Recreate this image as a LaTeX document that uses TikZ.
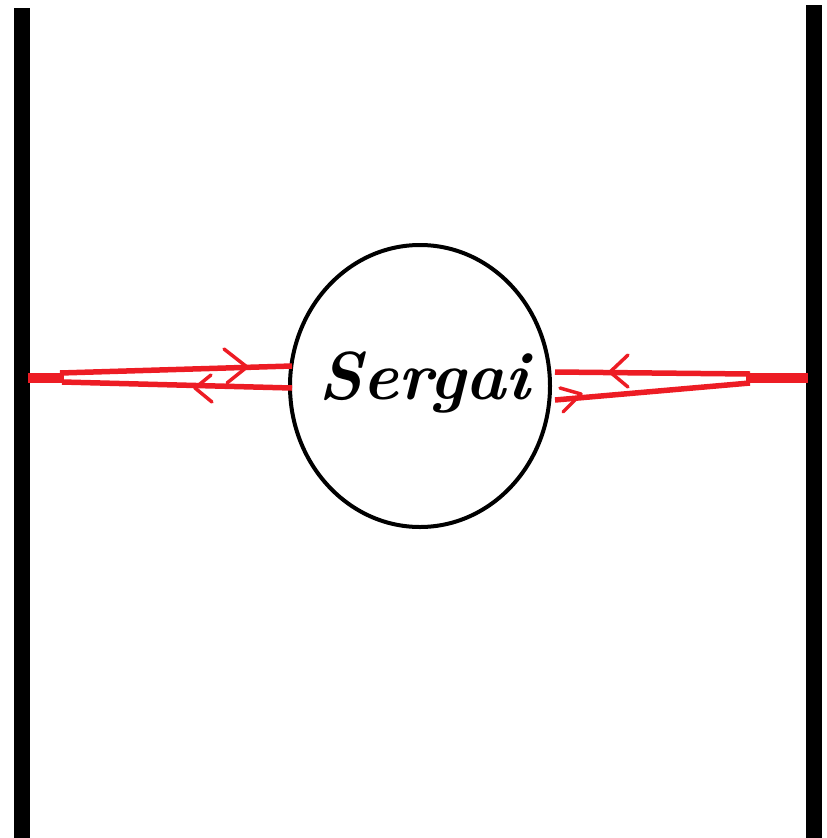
\documentclass[tikz,border=0pt]{standalone}
\usepackage{fontspec}
\usetikzlibrary{shapes.geometric}
\definecolor{rayred}{RGB}{237,28,36}
\tikzset{
  wall/.style={line width=16pt},
  ray/.style={draw=rayred,line width=5.5pt},
  raybar/.style={draw=rayred,line width=10pt},
  chev/.style={draw=rayred,line width=3.5pt,line cap=round,line join=round},
  body/.style={ellipse,draw=black,line width=4pt,minimum width=260pt,minimum height=282pt,inner sep=0pt},
  label/.style={font=\bfseries\itshape\fontsize{68}{72}\selectfont,inner sep=0pt}
}
\begin{document}
\begin{tikzpicture}[x=1pt,y=-1pt]
\useasboundingbox (0,0) rectangle (827,838);
% walls
\coordinate (lwt) at (22,8);
\coordinate (lwb) at (22,838);
\coordinate (rwt) at (814,5);
\coordinate (rwb) at (814,838);
\draw[wall] (lwt) -- (lwb);
\draw[wall] (rwt) -- (rwb);
% body
\node[body] (sergai) at (420,386) {};
\node[label] (name) at (424,382) {Sergai};
% left rays
\coordinate (lb1) at (28,378);
\coordinate (lb2) at (64,378);
\coordinate (lu1) at (60,373);
\coordinate (lu2) at (292,366);
\coordinate (ll1) at (62,382);
\coordinate (ll2) at (292,388);
\draw[raybar] (lb1) -- (lb2);
\draw[ray] (lu1) -- (lu2);
\draw[ray] (ll1) -- (ll2);
\draw[chev] (224,349) -- (247,367) -- (227,383);
\draw[chev] (211,375) -- (195,388) -- (212,402);
% right rays
\coordinate (rb1) at (746,378);
\coordinate (rb2) at (808,378);
\coordinate (ru1) at (555,372);
\coordinate (ru2) at (750,374);
\coordinate (rl1) at (555,400);
\coordinate (rl2) at (750,383);
\draw[raybar] (rb1) -- (rb2);
\draw[ray] (ru1) -- (ru2);
\draw[ray] (rl1) -- (rl2);
\draw[chev] (628,355) -- (610,372) -- (628,387);
\draw[chev] (560,388) -- (581,394) -- (563,412);
\end{tikzpicture}
\end{document}
